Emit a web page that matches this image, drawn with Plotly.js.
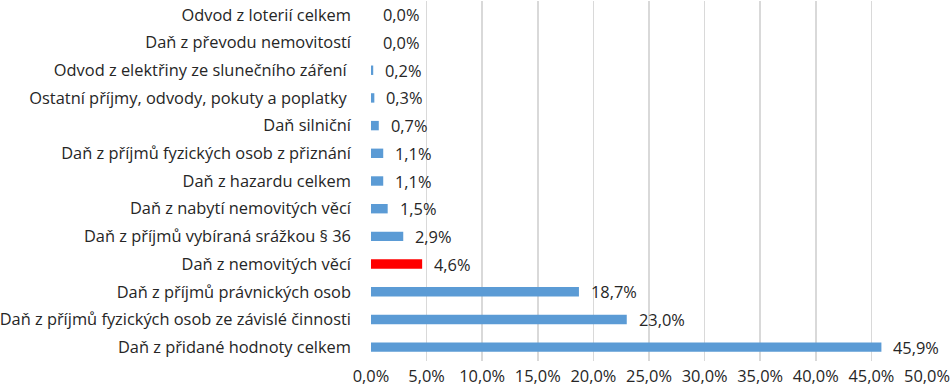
<!DOCTYPE html>
<html><head><meta charset="utf-8">
<script src="https://cdn.plot.ly/plotly-3.0.1.min.js"></script>
<style>html,body{margin:0;padding:0;background:#fff}#chart{width:950px;height:388px}</style>
</head><body><div id="chart"></div>
<script>
const categories = [
  "Odvod z loterií celkem",
  "Daň z převodu nemovitostí",
  "Odvod z elektřiny ze slunečního záření\u00a0",
  "Ostatní příjmy, odvody, pokuty a poplatky\u00a0",
  "Daň silniční",
  "Daň z příjmů fyzických osob z přiznání",
  "Daň z hazardu celkem",
  "Daň z nabytí nemovitých věcí",
  "Daň z příjmů vybíraná srážkou § 36",
  "Daň z nemovitých věcí",
  "Daň z příjmů právnických osob",
  "Daň z příjmů fyzických osob ze závislé činnosti",
  "Daň z přidané hodnoty celkem"
];
const shares = [0.0, 0.0, 0.2, 0.3, 0.7, 1.1, 1.1, 1.5, 2.9, 4.6, 18.7, 23.0, 45.9];
const highlight = "Daň z nemovitých věcí";

const FONT = "'Open Sans', sans-serif";
const FS = 16.4;
const colors = categories.map(c => c === highlight ? "#ff0000" : "#5b9bd5");

const annotations = categories.map((c, i) => ({
  x: shares[i], y: c, xref: "x", yref: "y",
  text: shares[i].toFixed(1).replace(".", ",") + "%",
  showarrow: false, xanchor: "left", yanchor: "middle", xshift: 10,
  font: {family: FONT, size: FS, color: "#262626"}
}));

Plotly.newPlot("chart", [{
  type: "bar", orientation: "h",
  x: shares, y: categories,
  marker: {color: colors},
  hoverinfo: "skip"
}], {
  width: 950, height: 388,
  margin: {l: 371, r: 23, t: 1, b: 27},
  paper_bgcolor: "#fff", plot_bgcolor: "#fff",
  separators: ", ",
  bargap: 0.66,
  showlegend: false,
  font: {family: FONT, size: FS, color: "#262626"},
  xaxis: {
    range: [0, 50], dtick: 5, tickformat: ".1f", ticksuffix: "%",
    showgrid: true, gridcolor: "#d9d9d9", gridwidth: 1.5,
    zeroline: false, showline: false, ticks: "",
    ticklabelstandoff: 4,
    tickfont: {family: FONT, size: FS, color: "#262626"},
    fixedrange: true
  },
  yaxis: {
    autorange: "reversed", type: "category",
    showgrid: false, zeroline: false, showline: false, ticks: "",
    ticklabelstandoff: 19,
    tickfont: {family: FONT, size: FS, color: "#262626"},
    fixedrange: true
  },
  annotations: annotations
}, {displayModeBar: false, staticPlot: true});
</script>
</body></html>
